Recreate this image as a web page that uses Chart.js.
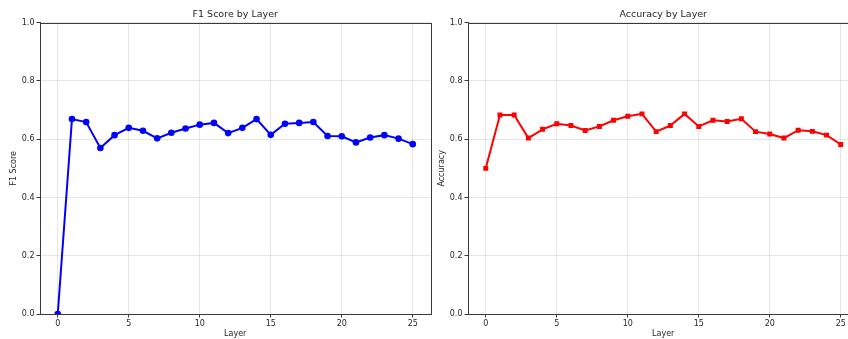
<!DOCTYPE html>
<html>
<head>
<meta charset="utf-8">
<title>Layer metrics</title>
<script src="https://cdn.jsdelivr.net/npm/chart.js@4/dist/chart.umd.min.js"></script>
<style>
  html, body { margin: 0; padding: 0; background: #fff; overflow: hidden; width: 848px; height: 339px; }
  .panel { position: absolute; top: 0; width: 440px; height: 339px; }
  #f1-panel { left: 0; }
  #acc-panel { left: 428px; }
</style>
</head>
<body>
<div class="panel" id="f1-panel"><canvas id="f1-chart" width="440" height="339"></canvas></div>
<div class="panel" id="acc-panel"><canvas id="acc-chart" width="440" height="339"></canvas></div>
<script>
// per-layer probe results
const layers = [0, 1, 2, 3, 4, 5, 6, 7, 8, 9, 10, 11, 12, 13, 14, 15, 16, 17, 18, 19, 20, 21, 22, 23, 24, 25];
const f1Scores = [0.0, 0.669, 0.659, 0.570, 0.614, 0.639, 0.629, 0.603, 0.622, 0.637, 0.650, 0.656,
  0.621, 0.639, 0.669, 0.615, 0.653, 0.656, 0.659, 0.611, 0.610, 0.589, 0.606, 0.614, 0.602, 0.583];
const accuracies = [0.5, 0.683, 0.683, 0.604, 0.634, 0.653, 0.647, 0.630, 0.644, 0.665, 0.679, 0.687,
  0.626, 0.647, 0.687, 0.644, 0.665, 0.661, 0.670, 0.626, 0.618, 0.604, 0.631, 0.627, 0.614, 0.582];

const xTicks = [0, 5, 10, 15, 20, 25];
const yTicks = [0.0, 0.2, 0.4, 0.6, 0.8, 1.0];

const FONT = "'DejaVu Sans', sans-serif";
const TEXT = "#262626";
const SPINE = "#3a3a3a";
const GRID = "rgba(176, 176, 176, 0.3)";

// box around the plot area + a title centred over it
const framePlugin = {
  id: "frame",
  afterDraw(chart, args, opts) {
    const { ctx, chartArea: a } = chart;
    ctx.save();
    ctx.strokeStyle = SPINE;
    ctx.lineWidth = 1;
    ctx.strokeRect(Math.round(a.left) + 0.5, Math.round(a.top) + 0.5,
      Math.round(a.right - a.left), Math.round(a.bottom - a.top));
    ctx.fillStyle = TEXT;
    ctx.font = "9.5px " + FONT;
    ctx.textAlign = "center";
    ctx.textBaseline = "middle";
    ctx.fillText(opts.text, (a.left + a.right) / 2, 15);
    ctx.restore();
  },
};

function buildChart(canvasId, title, yLabel, values, color, pointStyle, radius) {
  const ctx = document.getElementById(canvasId).getContext("2d");
  return new Chart(ctx, {
    type: "line",
    data: {
      datasets: [
        {
          data: layers.map((l, i) => ({ x: l, y: values[i] })),
          borderColor: color,
          backgroundColor: color,
          borderWidth: 2,
          pointStyle,
          pointRadius: radius,
          pointBorderWidth: 0,
          tension: 0,
          clip: 0,
        },
      ],
    },
    plugins: [framePlugin],
    options: {
      responsive: false,
      animation: false,
      devicePixelRatio: 1,
      layout: { padding: { top: 22.7, right: 9.5, left: 0, bottom: 0 } },
      plugins: {
        legend: { display: false },
        tooltip: { enabled: false },
        frame: { text: title },
      },
      scales: {
        x: {
          type: "linear",
          min: -1.25,
          max: 26.25,
          afterFit: (s) => { s.height = 25; },
          afterBuildTicks: (s) => { s.ticks = xTicks.map((v) => ({ value: v })); },
          ticks: {
            color: TEXT,
            font: { family: FONT, size: 8 },
            padding: 1.5,
            maxRotation: 0,
            callback: (v) => String(v),
          },
          grid: { color: GRID, tickColor: SPINE, tickLength: 3.5, lineWidth: 1 },
          border: { color: SPINE, width: 1 },
          title: {
            display: true,
            text: "Layer",
            color: TEXT,
            font: { family: FONT, size: 8 },
            padding: { top: 0, bottom: 0 },
          },
        },
        y: {
          min: 0,
          max: 1,
          afterFit: (s) => { s.width = 40; },
          afterBuildTicks: (s) => { s.ticks = yTicks.map((v) => ({ value: v })); },
          ticks: {
            color: TEXT,
            font: { family: FONT, size: 8 },
            padding: 2,
            callback: (v) => Number(v).toFixed(1),
          },
          grid: { color: GRID, tickColor: SPINE, tickLength: 3.5, lineWidth: 1 },
          border: { color: SPINE, width: 1 },
          title: {
            display: true,
            text: yLabel,
            color: TEXT,
            font: { family: FONT, size: 8 },
            padding: { top: 9, bottom: 0 },
          },
        },
      },
    },
  });
}

buildChart("f1-chart", "F1 Score by Layer", "F1 Score", f1Scores, "#0000ff", "circle", 3.3);
buildChart("acc-chart", "Accuracy by Layer", "Accuracy", accuracies, "#ff0000", "rect", 3.5);
</script>
</body>
</html>
